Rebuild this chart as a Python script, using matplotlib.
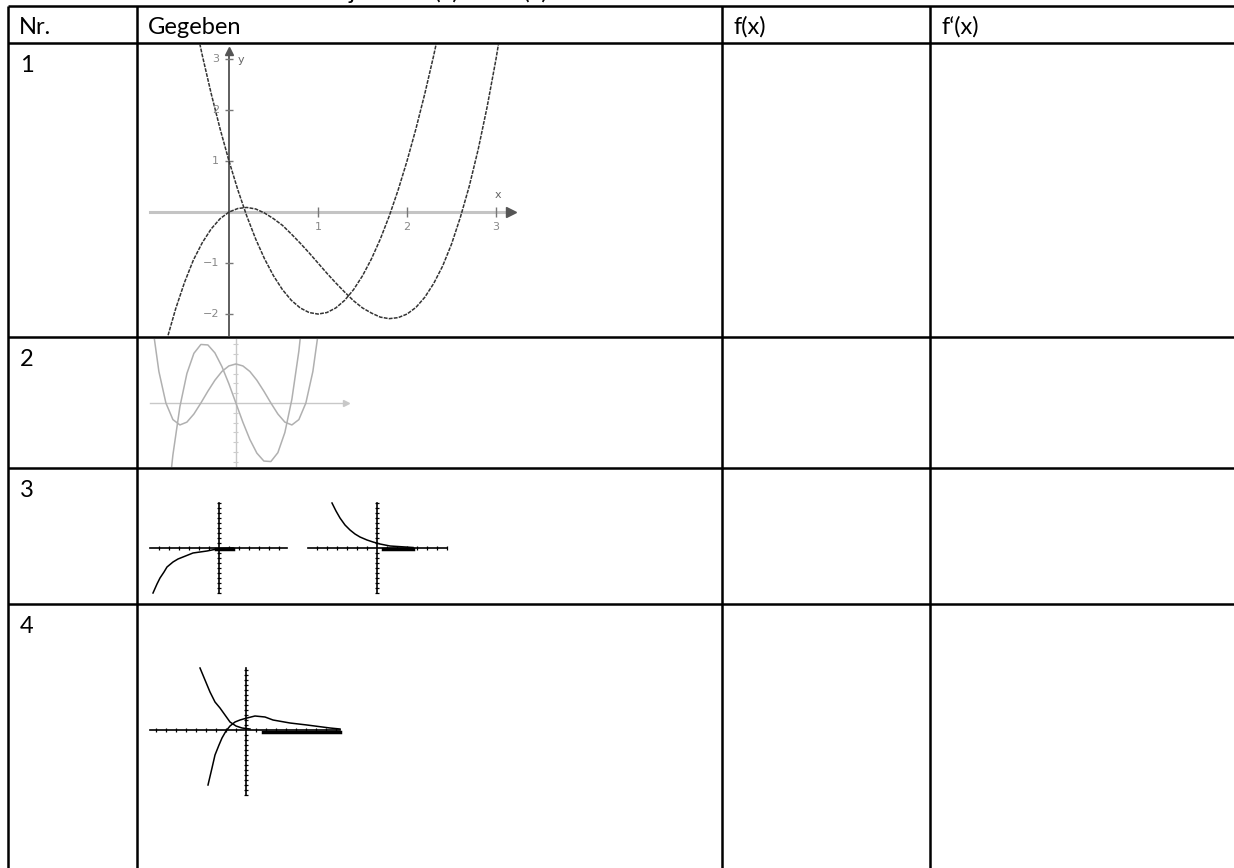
import matplotlib
matplotlib.use("Agg")
import matplotlib.pyplot as plt

W, H = 1234, 868
plt.rcParams['font.family'] = ['Lato', 'DejaVu Sans']

# table
header = ["Nr.", "Gegeben", "f(x)", "f\u2018(x)"]
row_labels = ["1", "2", "3", "4"]
col_edges = [8, 137, 722, 930]
row_edges = [6, 43, 337, 468, 604]
title_cut = "Skizziere jeweils f(x) und f\u2018(x)"

# row 1: cubic f and its derivative
g1_x = [-0.7, -0.6, -0.5, -0.4, -0.3, -0.2, -0.1, 0.0, 0.1, 0.2, 0.3, 0.4, 0.5,
        0.6, 0.7, 0.8, 0.9, 1.0, 1.1, 1.2, 1.3, 1.4, 1.5, 1.6, 1.7, 1.8, 1.9,
        2.0, 2.1, 2.2, 2.3, 2.4, 2.5, 2.6, 2.7, 2.8, 2.9, 3.0, 3.1]
g1_f = [-2.51, -1.90, -1.38, -0.94, -0.60, -0.33, -0.13, 0.0, 0.07, 0.09, 0.06,
        -0.02, -0.13, -0.26, -0.43, -0.61, -0.80, -1.0, -1.2, -1.39, -1.57,
        -1.74, -1.88, -1.98, -2.06, -2.09, -2.07, -2.0, -1.87, -1.67, -1.40,
        -1.06, -0.63, -0.10, 0.51, 1.23, 2.06, 3.0, 4.06]
g1_dx = [-0.4, -0.3, -0.2, -0.1, 0.0, 0.1, 0.2, 0.3, 0.4, 0.5, 0.6, 0.7, 0.8,
         0.9, 1.0, 1.1, 1.2, 1.3, 1.4, 1.5, 1.6, 1.7, 1.8, 1.9, 2.0, 2.1, 2.2,
         2.3, 2.4]
g1_df = [3.88, 3.07, 2.32, 1.63, 1.0, 0.43, -0.08, -0.53, -0.92, -1.25, -1.52,
         -1.73, -1.88, -1.97, -2.0, -1.97, -1.88, -1.73, -1.52, -1.25, -0.92,
         -0.53, -0.08, 0.43, 1.0, 1.63, 2.32, 3.07, 3.88]
g1_xticks = [1, 2, 3]
g1_yticks = [-2, -1, 1, 2, 3]
g1_ytick_labels = ["\u22122", "\u22121", "1", "2", "3"]

# row 2: quartic (W shape) and derivative, faint scan
g2_x = [-2.4, -2.2, -2.0, -1.8, -1.6, -1.4, -1.2, -1.0, -0.8, -0.6, -0.4, -0.2,
        0.0, 0.2, 0.4, 0.6, 0.8, 1.0, 1.2, 1.4, 1.6, 1.8, 2.0, 2.2, 2.4]
g2_f = [8.38, 3.23, 0.0, -1.70, -2.25, -1.96, -1.13, 0.0, 1.21, 2.33, 3.23, 3.80,
        4.0, 3.80, 3.23, 2.33, 1.21, 0.0, -1.13, -1.96, -2.25, -1.70, 0.0, 3.23,
        8.38]
g2_dx = [-2.0, -1.8, -1.6, -1.4, -1.2, -1.0, -0.8, -0.6, -0.4, -0.2, 0.0, 0.2,
         0.4, 0.6, 0.8, 1.0, 1.2, 1.4, 1.6, 1.8, 2.0]
g2_df = [-12.0, -5.33, -0.38, 3.02, 5.09, 6.0, 5.95, 5.14, 3.74, 1.97, 0.0,
         -1.97, -3.74, -5.14, -5.95, -6.0, -5.09, -3.02, 0.38, 5.33, 12.0]

# row 3: two calculator screens
g3a_x = [-6.6, -6.2, -5.9, -5.5, -5.2, -4.6, -4.1, -3.6, -2.6, -1.2, -0.2, 1.4]
g3a_y = [-4.5, -3.6, -3.0, -2.4, -1.9, -1.4, -1.1, -0.9, -0.5, -0.3, -0.1, 0.0]
g3b_x = [-4.5, -4.1, -3.7, -3.2, -2.7, -2.2, -1.7, -1.0, -0.4, 0.3, 1.3, 3.6]
g3b_y = [4.5, 3.7, 3.0, 2.3, 1.8, 1.4, 1.1, 0.8, 0.6, 0.4, 0.2, 0.05]

# row 4: calculator screen with two curves
g4a_x = [-4.6, -4.1, -3.6, -3.1, -2.6, -2.1, -1.6, -1.0, -0.4, 0.4]
g4a_y = [6.2, 5.0, 3.8, 2.8, 2.2, 1.5, 0.8, 0.4, 0.2, 0.1]
g4b_x = [-3.8, -3.4, -3.1, -2.7, -2.4, -2.0, -1.6, -1.1, -0.6, 0.1, 0.9, 1.9,
         2.7, 4.4, 6.1, 8.4, 9.4]
g4b_y = [-5.5, -3.8, -2.5, -1.5, -0.8, -0.1, 0.4, 0.8, 1.0, 1.2, 1.4, 1.3, 1.0,
         0.7, 0.5, 0.2, 0.1]


def inset(fig, box, xlim, ylim):
    # box in pixels: left, top, right, bottom
    l, t, r, b = box
    a = fig.add_axes([l / W, 1 - b / H, (r - l) / W, (b - t) / H])
    a.set_xlim(*xlim)
    a.set_ylim(*ylim)
    a.axis('off')
    return a


def calc_axes(a, xr, yr):
    # TI style axes with tick dots
    a.plot(xr, [0, 0], color='black', lw=1.2)
    a.plot([0, 0], yr, color='black', lw=1.2)
    xs = [i for i in range(int(xr[0]), int(xr[1]) + 1) if i != 0]
    a.vlines(xs, -0.22, 0.22, color='black', lw=0.9)
    ys = [i * 0.5 for i in range(int(yr[0] * 2), int(yr[1] * 2) + 1) if i != 0]
    a.hlines(ys, -0.22, 0.22, color='black', lw=0.9)


fig = plt.figure(figsize=(W / 100, H / 100), dpi=100)
ax = fig.add_axes([0, 0, 1, 1])
ax.set_xlim(0, W)
ax.set_ylim(H, 0)
ax.axis('off')

ax.hlines(row_edges, col_edges[0], W, color='black', lw=1.8)
ax.vlines(col_edges, row_edges[0], H, color='black', lw=1.8)
# heading above the table, cut off by the page edge in the scan
ax.text(548, -1, title_cut, ha='right', va='baseline', fontsize=17)

for i, h in enumerate(header):
    ax.text(col_edges[i] + 11, 34, h, fontsize=17, va='baseline')
for i, lab in enumerate(row_labels):
    ax.text(col_edges[0] + 12, row_edges[i + 1] + 29, lab, fontsize=17,
            va='baseline')

# --- row 1 graph
a1 = inset(fig, (140, 44, 522, 336), (-1.0, 3.292), (-2.43, 3.294))
a1.plot([-0.89, 3.12], [0, 0], color='#c4c4c4', lw=2.2)
a1.plot(3.17, 0, marker='>', ms=7, color='#555555')
a1.plot([0, 0], [-2.6, 3.1], color='#333333', lw=1.1)
a1.plot(0, 3.15, marker='^', ms=6, color='#555555')
a1.vlines(g1_xticks, -0.1, 0.1, color='#777777', lw=1)
a1.hlines(g1_yticks, -0.05, 0.05, color='#777777', lw=1)
for t in g1_xticks:
    a1.text(t, -0.29, str(t), ha='center', va='center', fontsize=8,
            color='#888888', family='DejaVu Sans')
for t, s in zip(g1_yticks, g1_ytick_labels):
    a1.text(-0.11, t, s, ha='right', va='center', fontsize=8, color='#888888',
            family='DejaVu Sans')
a1.text(3.02, 0.33, "x", ha='center', va='center', fontsize=8, color='#666666',
        family='DejaVu Sans')
a1.text(0.13, 2.98, "y", ha='center', va='center', fontsize=8, color='#666666',
        family='DejaVu Sans')
a1.plot(g1_x, g1_f, color='#333333', lw=1.1, ls=(0, (2.5, 0.8)))
a1.plot(g1_dx, g1_df, color='#333333', lw=1.1, ls=(0, (2.5, 0.8)))

# --- row 2 graph (faint)
a2 = inset(fig, (140, 339, 400, 467), (-2.74, 4.69), (-6.56, 6.56))
a2.plot([-2.46, 3.1], [0, 0], color='#c8c8c8', lw=1)
a2.plot(3.15, 0, marker='>', ms=4, color='#c8c8c8')
a2.plot([0, 0], [-7, 7], color='#c8c8c8', lw=1)
a2.hlines([-6, -5, -4, -3, -2, -1, 1, 2, 3, 4, 5, 6], -0.07, 0.07,
          color='#cccccc', lw=0.8)
a2.plot(g2_x, g2_f, color='#b0b0b0', lw=1.1)
a2.plot(g2_dx, g2_df, color='#b0b0b0', lw=1.1)

# --- row 3 graphs
a3 = inset(fig, (140, 470, 300, 600), (-7.9, 8.1), (-5.2, 7.8))
calc_axes(a3, [-6.9, 6.8], [-4.5, 4.5])
a3.plot(g3a_x, g3a_y, color='black', lw=1.1)
a3.plot([-0.3, 1.4], [-0.08, -0.08], color='black', lw=2.5)

a3b = inset(fig, (300, 470, 460, 600), (-7.7, 8.3), (-5.2, 7.8))
calc_axes(a3b, [-6.9, 7.0], [-4.5, 4.5])
a3b.plot(g3b_x, g3b_y, color='black', lw=1.1)
a3b.plot([0.6, 3.6], [-0.05, -0.05], color='black', lw=2.5)

# --- row 4 graph
a4 = inset(fig, (140, 610, 360, 866), (-10.6, 11.4), (-13.6, 12.0))
calc_axes(a4, [-9.6, 9.4], [-6.5, 6.2])
a4.plot(g4a_x, g4a_y, color='black', lw=1.1)
a4.plot(g4b_x, g4b_y, color='black', lw=1.1)
a4.plot([1.7, 9.4], [-0.2, -0.2], color='black', lw=2.5)

fig.savefig("out.png", dpi=100)
